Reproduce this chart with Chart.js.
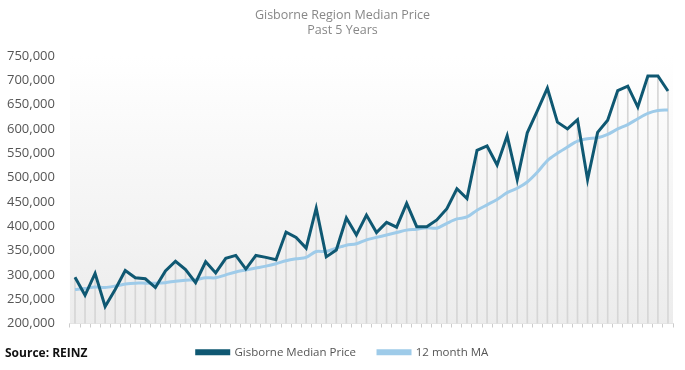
<!DOCTYPE html>
<html>
<head>
<meta charset="utf-8">
<script src="https://cdn.jsdelivr.net/npm/chart.js@4"></script>
<style>
html,body{margin:0;padding:0;background:#fff;}
#wrap{position:relative;width:685px;height:370px;}
</style>
</head>
<body>
<div id="wrap"><canvas id="c" width="685" height="370"></canvas></div>
<script>
const months = [
 'Jul 17','Aug 17','Sep 17','Oct 17','Nov 17','Dec 17',
 'Jan 18','Feb 18','Mar 18','Apr 18','May 18','Jun 18','Jul 18','Aug 18','Sep 18','Oct 18','Nov 18','Dec 18',
 'Jan 19','Feb 19','Mar 19','Apr 19','May 19','Jun 19','Jul 19','Aug 19','Sep 19','Oct 19','Nov 19','Dec 19',
 'Jan 20','Feb 20','Mar 20','Apr 20','May 20','Jun 20','Jul 20','Aug 20','Sep 20','Oct 20','Nov 20','Dec 20',
 'Jan 21','Feb 21','Mar 21','Apr 21','May 21','Jun 21','Jul 21','Aug 21','Sep 21','Oct 21','Nov 21','Dec 21',
 'Jan 22','Feb 22','Mar 22','Apr 22','May 22','Jun 22'
];
const medianPrice = [
 295000,258000,303000,235000,270000,309000,294000,292000,274000,308000,
 328000,311000,284000,327000,304000,334000,340000,312000,340000,336000,
 331000,388000,377000,355000,437000,337000,351000,417000,382000,423000,
 387000,408000,398000,447000,399000,399000,413000,436000,477000,457000,
 556000,565000,526000,586000,496000,592000,637000,684000,614000,600000,
 619000,496000,593000,618000,679000,688000,645000,709000,709000,678000
];
const movingAverage = [
 270000,272000,275000,274000,277000,281000,283000,283000,283000,284000,
 287000,289000,290000,294000,294000,300000,306000,310000,314000,318000,
 323000,329000,333000,336000,348000,348000,355000,361000,364000,372000,
 377000,382000,387000,392000,394000,397000,396000,406000,415000,419000,
 433000,444000,455000,469000,478000,491000,511000,535000,550000,563000,
 575000,580000,582000,589000,600000,609000,621000,632000,638000,639000
];
const yTicks = { min: 200000, max: 750000, step: 50000 };
const titleLines = ['Gisborne Region Median Price', 'Past 5 Years'];
const seriesNames = ['Gisborne Median Price', '12 month MA'];
const sourceText = 'Source: REINZ';

const bgPlugin = {
  id: 'bg',
  beforeDatasetsDraw(chart) {
    const {ctx, chartArea: a} = chart;
    const g = ctx.createLinearGradient(0, a.top, 0, a.bottom);
    g.addColorStop(0, '#ffffff');
    g.addColorStop(1, '#ececec');
    ctx.save();
    ctx.fillStyle = g;
    ctx.fillRect(a.left, a.top, a.right - a.left, a.bottom - a.top);
    ctx.restore();
  },
  afterDraw(chart) {
    const ctx = chart.ctx;
    ctx.save();
    ctx.font = 'bold 12px "Open Sans", sans-serif';
    ctx.fillStyle = '#111';
    ctx.textBaseline = 'middle';
    ctx.fillText(sourceText, 5, 354);
    ctx.restore();
  }
};

new Chart(document.getElementById('c'), {
  data: {
    labels: months,
    datasets: [
      { type: 'line', label: seriesNames[0], data: medianPrice, borderColor: '#0f5872', backgroundColor: '#0f5872',
        borderWidth: 3, pointRadius: 0, tension: 0, order: 1 },
      { type: 'line', label: seriesNames[1], data: movingAverage, borderColor: '#9ecbe9', backgroundColor: '#9ecbe9',
        borderWidth: 3, pointRadius: 0, tension: 0.3, order: 2 },
      { type: 'bar', label: 'drop', data: medianPrice, backgroundColor: '#d6d6d6', barThickness: 1, order: 3 }
    ]
  },
  options: {
    responsive: false,
    animation: false,
    layout: { padding: { left: 0, right: 0, top: 0, bottom: 2 } },
    plugins: {
      title: { display: true, text: titleLines, color: '#888', font: { family: 'Open Sans', size: 12.5, weight: 'normal' },
        lineHeight: 1.2, padding: { top: 8, bottom: 18 } },
      legend: { position: 'bottom', labels: {
        filter: (item) => item.datasetIndex < 2,
        boxWidth: 32, boxHeight: 3, color: '#555', padding: 22,
        font: { family: 'Open Sans', size: 11.5 } } },
      tooltip: { enabled: false }
    },
    scales: {
      x: { offset: true,
        afterFit: (s) => { s.height -= 3; },
        grid: { offset: true, drawOnChartArea: false, drawTicks: true, tickLength: 4, color: '#cccccc' },
        border: { display: true, color: '#dddddd' },
        ticks: { display: false } },
      y: { min: yTicks.min, max: yTicks.max,
        grid: { display: false }, border: { display: false },
        ticks: { stepSize: yTicks.step, color: '#555', padding: 7,
          font: { family: 'Open Sans', size: 13 },
          callback: (v) => v.toLocaleString('en-US') } },
      yPad: { position: 'right', display: true,
        afterFit: (s) => { s.width = 12; },
        grid: { display: false }, border: { display: false },
        ticks: { display: false } }
    }
  },
  plugins: [bgPlugin]
});
</script>
</body>
</html>
